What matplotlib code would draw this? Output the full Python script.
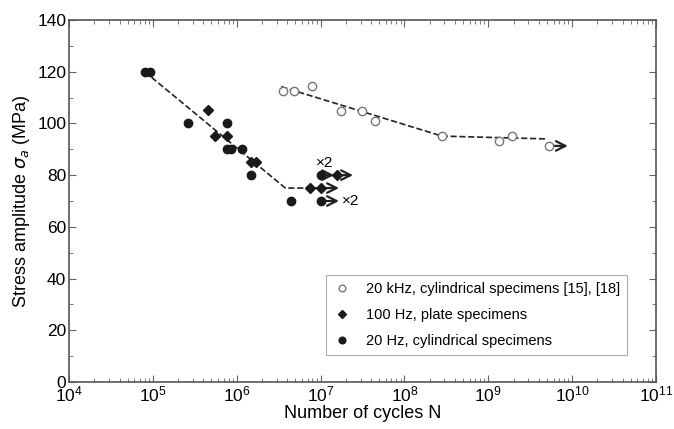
import matplotlib.pyplot as plt
import numpy as np
from matplotlib.ticker import MultipleLocator, LogLocator, NullFormatter

plt.rcParams['font.family'] = ['Liberation Sans', 'DejaVu Sans']

# 20 kHz, cylindrical (open circles)
khz_n = [3.6e6, 4.8e6, 8.0e6, 1.74e7, 3.1e7, 4.5e7, 2.83e8, 1.34e9, 1.9e9, 5.3e9]
khz_s = [112.6, 112.6, 114.6, 104.8, 104.8, 100.9, 95.1, 93.2, 95.1, 91.3]

# 100 Hz, plate (diamonds)
plate_n = [4.6e5, 5.5e5, 7.6e5, 1.5e6, 1.7e6, 7.5e6, 1.0e7, 1.55e7]
plate_s = [105, 95, 95, 85, 85, 75, 75, 80]

# 20 Hz, cylindrical (filled circles)
cyl_n = [8.1e4, 9.2e4, 2.65e5, 7.7e5, 7.7e5, 8.5e5, 1.15e6, 1.5e6, 4.4e6, 1.0e7, 1.0e7]
cyl_s = [120, 120, 100, 100, 90, 90, 90, 80, 70, 80, 70]

# trend lines
fit_low_n = [8.0e4, 3.8e6, 1.5e7]
fit_low_s = [120, 75, 75]
fit_khz_n = [3.4e6, 2.8e8, 5.1e9]
fit_khz_s = [114.2, 95.1, 94.0]

# run-outs: start N, end N, stress
runout_start = [5.3e9, 1.0e7, 1.55e7, 1.0e7, 1.0e7]
runout_end = [8.9e9, 1.45e7, 2.44e7, 1.66e7, 1.66e7]
runout_s = [91.3, 80, 80, 75, 70]

fig = plt.figure(figsize=(6.74, 4.29), dpi=100)
ax = fig.add_axes([0.1024, 0.1096, 0.8709, 0.8438])

ax.plot(fit_low_n, fit_low_s, '--', color='#222222', lw=1.2, zorder=2)
ax.plot(fit_khz_n, fit_khz_s, '--', color='#222222', lw=1.2, zorder=2)

for n0, n1, s in zip(runout_start, runout_end, runout_s):
    ax.annotate('', xy=(n1, s), xytext=(n0, s),
                arrowprops=dict(arrowstyle='->', color='#222222', lw=1.6,
                                mutation_scale=17, shrinkA=0, shrinkB=0),
                zorder=3)

ax.plot(khz_n, khz_s, 'o', ms=6, mfc='white', mec='#777777', mew=1.0,
        ls='none', label='20 kHz, cylindrical specimens [15], [18]', zorder=4)
ax.plot(plate_n, plate_s, 'D', ms=5, color='#1a1a1a', ls='none',
        label='100 Hz, plate specimens', zorder=4)
ax.plot(cyl_n, cyl_s, 'o', ms=6, color='#1a1a1a', ls='none',
        label='20 Hz, cylindrical specimens', zorder=4)

ax.text(1.12e7, 84.7, '×2', fontsize=11, ha='center', va='center')
ax.text(1.8e7, 70, '×2', fontsize=11, ha='left', va='center')

ax.set_xscale('log')
ax.set_xlim(1e4, 1e11)
ax.set_ylim(0, 140)
ax.yaxis.set_major_locator(MultipleLocator(20))
ax.yaxis.set_minor_locator(MultipleLocator(10))
ax.xaxis.set_major_locator(LogLocator(base=10, numticks=12))
ax.xaxis.set_minor_locator(LogLocator(base=10, subs=np.arange(2, 10), numticks=12))
ax.xaxis.set_minor_formatter(NullFormatter())

ax.tick_params(which='both', direction='in', top=True, right=True,
               color='#666666', labelsize=12.5, pad=2)
ax.tick_params(which='major', length=5)
ax.tick_params(which='minor', length=3)
for sp in ax.spines.values():
    sp.set_color('#555555')
    sp.set_linewidth(1.2)

ax.set_xlabel('Number of cycles N', fontsize=13, labelpad=0)
ax.set_ylabel(r'Stress amplitude $\sigma_a$ (MPa)', fontsize=13, labelpad=4)

leg = ax.legend(loc='lower right', bbox_to_anchor=(0.9506, 0.0746), fontsize=10.5,
                frameon=True, fancybox=False, handletextpad=1.0,
                borderpad=0.5, labelspacing=0.8, markerscale=0.8,
                handlelength=1.2, borderaxespad=0)
leg.get_frame().set_edgecolor('#999999')
leg.get_frame().set_linewidth(0.8)

fig.savefig('out.png', dpi=100)
